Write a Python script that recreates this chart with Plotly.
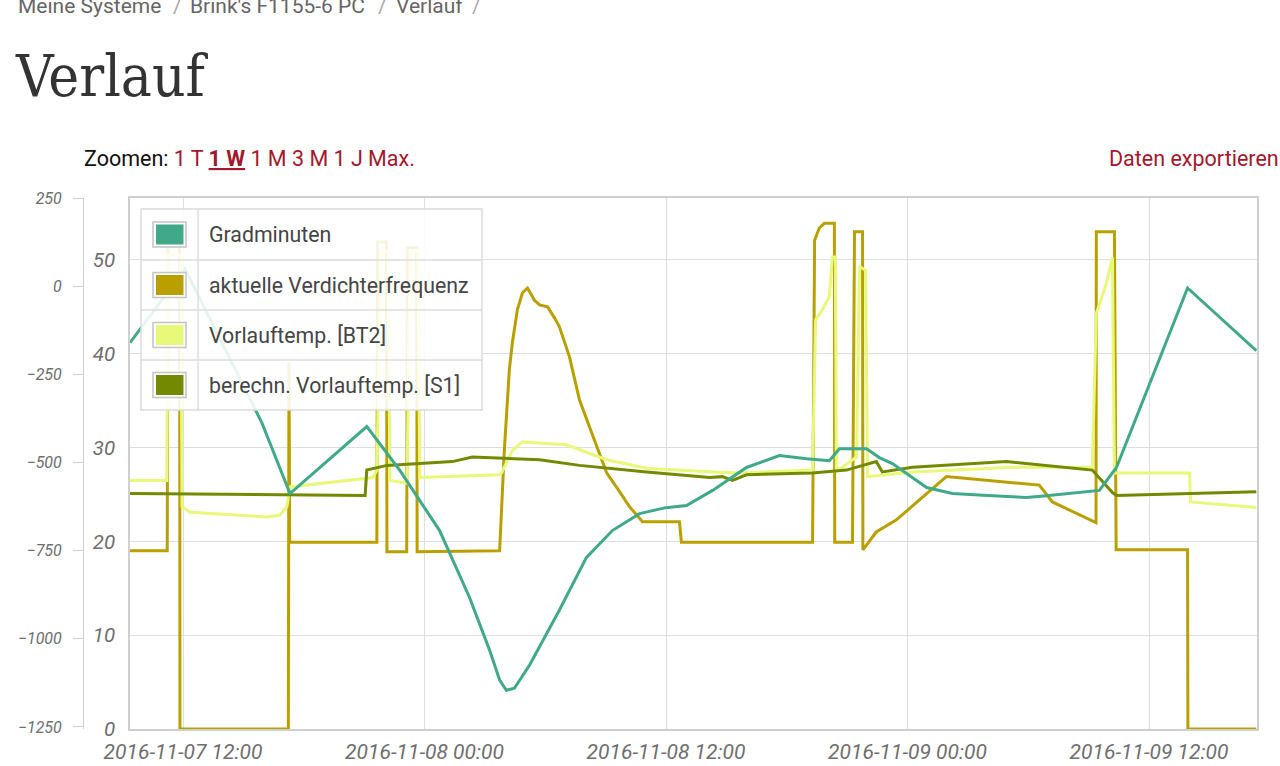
import plotly.graph_objects as go

# ---------------- data ----------------
series_names = ["Gradminuten", "aktuelle Verdichterfrequenz",
                "Vorlauftemp. [BT2]", "berechn. Vorlauftemp. [S1]"]
series_colors = ["#3fa98a", "#b9a000", "#e8f878", "#738a00"]

grad_time = ["2016-11-07 09:22", "2016-11-07 12:06", "2016-11-07 15:55", "2016-11-07 17:19",
             "2016-11-07 21:08", "2016-11-07 22:47", "2016-11-08 00:45", "2016-11-08 02:14",
             "2016-11-08 03:14", "2016-11-08 03:44", "2016-11-08 04:04", "2016-11-08 04:28",
             "2016-11-08 05:13", "2016-11-08 06:42", "2016-11-08 08:03", "2016-11-08 09:20",
             "2016-11-08 10:41", "2016-11-08 12:00", "2016-11-08 13:01", "2016-11-08 14:19",
             "2016-11-08 16:00", "2016-11-08 17:38", "2016-11-08 18:59", "2016-11-08 20:07",
             "2016-11-08 20:37", "2016-11-08 21:58", "2016-11-08 22:36", "2016-11-08 23:15",
             "2016-11-09 00:57", "2016-11-09 02:14", "2016-11-09 04:13", "2016-11-09 05:55",
             "2016-11-09 06:54", "2016-11-09 08:33", "2016-11-09 09:32", "2016-11-09 10:23",
             "2016-11-09 13:55", "2016-11-09 17:20"]
grad_val = [-160, 49, -387, -588,
            -398, -523, -693, -882,
            -1032, -1117, -1146, -1140,
            -1075, -919, -769, -693,
            -645, -628, -622, -579,
            -514, -480, -489, -495,
            -461, -461, -486, -503,
            -571, -588, -594, -599,
            -594, -585, -579, -514,
            -5, -183]

freq_time = ["2016-11-07 09:22", "2016-11-07 11:13", "2016-11-07 11:15", "2016-11-07 11:50",
             "2016-11-07 11:51", "2016-11-07 17:14", "2016-11-07 17:16", "2016-11-07 17:18",
             "2016-11-07 21:38", "2016-11-07 21:40", "2016-11-07 22:07", "2016-11-07 22:08",
             "2016-11-07 23:07", "2016-11-07 23:09", "2016-11-07 23:37", "2016-11-07 23:38",
             "2016-11-08 03:44", "2016-11-08 03:58", "2016-11-08 04:13", "2016-11-08 04:22",
             "2016-11-08 04:37", "2016-11-08 04:52", "2016-11-08 05:07", "2016-11-08 05:28",
             "2016-11-08 05:43", "2016-11-08 06:07", "2016-11-08 06:28", "2016-11-08 06:42",
             "2016-11-08 07:12", "2016-11-08 07:42", "2016-11-08 08:12", "2016-11-08 08:33",
             "2016-11-08 09:03", "2016-11-08 09:32", "2016-11-08 10:11", "2016-11-08 10:50",
             "2016-11-08 12:40", "2016-11-08 12:46", "2016-11-08 19:17", "2016-11-08 19:23",
             "2016-11-08 19:37", "2016-11-08 19:52", "2016-11-08 20:22", "2016-11-08 20:23",
             "2016-11-08 21:16", "2016-11-08 21:22", "2016-11-08 21:46", "2016-11-08 21:47",
             "2016-11-08 22:27", "2016-11-08 23:27", "2016-11-09 00:36", "2016-11-09 01:56",
             "2016-11-09 06:33", "2016-11-09 07:12", "2016-11-09 09:22", "2016-11-09 09:23",
             "2016-11-09 10:17", "2016-11-09 10:22", "2016-11-09 13:55", "2016-11-09 13:56",
             "2016-11-09 17:20"]
freq_val = [19.0, 19.0, 51.6, 51.6,
            0, 0, 39.1, 19.9,
            19.9, 51.9, 51.9, 18.9,
            18.9, 51.3, 51.3, 18.9,
            19.0, 29.7, 38.3, 41.2,
            44.7, 46.5, 47.0, 45.7,
            45.2, 45.0, 43.8, 42.9,
            39.7, 35.1, 32.2, 30.1,
            27.3, 25.8, 23.7, 22.1,
            22.1, 19.9, 19.9, 52.1,
            53.4, 53.9, 53.9, 19.9,
            19.9, 53.0, 53.0, 19.1,
            21.0, 22.3, 24.4, 26.9,
            26.0, 24.2, 22.0, 53.0,
            53.0, 19.1, 19.1, 0,
            0]

bt2_time = ["2016-11-07 09:22", "2016-11-07 11:12", "2016-11-07 11:15", "2016-11-07 11:54",
            "2016-11-07 11:57", "2016-11-07 12:21", "2016-11-07 16:10", "2016-11-07 16:49",
            "2016-11-07 17:10", "2016-11-07 17:19", "2016-11-07 21:26", "2016-11-07 21:38",
            "2016-11-07 21:50", "2016-11-07 22:11", "2016-11-07 22:17", "2016-11-07 23:08",
            "2016-11-07 23:17", "2016-11-07 23:40", "2016-11-07 23:46", "2016-11-08 03:44",
            "2016-11-08 03:50", "2016-11-08 04:22", "2016-11-08 04:52", "2016-11-08 07:03",
            "2016-11-08 09:03", "2016-11-08 11:02", "2016-11-08 14:19", "2016-11-08 15:39",
            "2016-11-08 19:17", "2016-11-08 19:26", "2016-11-08 19:46", "2016-11-08 20:07",
            "2016-11-08 20:16", "2016-11-08 20:25", "2016-11-08 20:28", "2016-11-08 20:46",
            "2016-11-08 21:28", "2016-11-08 21:37", "2016-11-08 21:55", "2016-11-08 22:01",
            "2016-11-09 00:15", "2016-11-09 05:13", "2016-11-09 09:11", "2016-11-09 09:23",
            "2016-11-09 09:53", "2016-11-09 10:11", "2016-11-09 10:17", "2016-11-09 14:01",
            "2016-11-09 14:04", "2016-11-09 17:20"]
bt2_val = [26.5, 26.5, 50.5, 50.5,
           23.7, 23.1, 22.6, 22.8,
           23.7, 25.8, 26.8, 27.6,
           50.9, 50.9, 26.5, 26.2,
           51.0, 51.0, 26.8, 27.1,
           27.3, 29.7, 30.6, 30.3,
           28.7, 27.8, 27.4, 27.3,
           27.6, 43.6, 44.7, 46.1,
           50.3, 50.3, 27.6, 27.9,
           29.0, 49.3, 48.9, 26.9,
           27.4, 27.9, 27.9, 44.3,
           47.5, 50.3, 27.3, 27.3,
           24.2, 23.6]

s1_time = ["2016-11-07 09:22", "2016-11-07 21:03", "2016-11-07 21:08", "2016-11-07 22:08",
           "2016-11-08 01:23", "2016-11-08 02:23", "2016-11-08 05:43", "2016-11-08 07:42",
           "2016-11-08 11:02", "2016-11-08 14:10", "2016-11-08 14:48", "2016-11-08 15:18",
           "2016-11-08 16:00", "2016-11-08 19:17", "2016-11-08 20:58", "2016-11-08 22:27",
           "2016-11-08 22:45", "2016-11-09 00:15", "2016-11-09 04:55", "2016-11-09 09:11",
           "2016-11-09 10:11", "2016-11-09 10:23", "2016-11-09 17:20"]
s1_val = [25.1, 24.9, 27.6, 28.1,
          28.5, 29.0, 28.7, 28.1,
          27.4, 26.8, 26.9, 26.5,
          27.1, 27.3, 27.6, 28.5,
          27.4, 27.9, 28.5, 27.6,
          25.2, 24.9, 25.3]

x_tick_vals = ["2016-11-07 12:00", "2016-11-08 00:00", "2016-11-08 12:00",
               "2016-11-09 00:00", "2016-11-09 12:00"]
x_tick_text = ["2016-11-07 12:00", "2016-11-08 00:00", "2016-11-08 12:00",
               "2016-11-09 00:00", "2016-11-09 12:00"]
x_range = ["2016-11-07 09:22", "2016-11-09 17:22"]
temp_ticks = [0, 10, 20, 30, 40, 50]
temp_range = [0, 56.6]
grad_ticks = [-1250, -1000, -750, -500, -250, 0, 250]
grad_range = [-1255.7, 250.2]

# ---------------- layout helpers ----------------
W, H = 1280, 766


def px(x):
    return x / W


def py(y):
    return 1 - y / H


RED = "#a3182c"
GRID = "#dedede"
XTICKFONT = dict(family="Roboto, Arial, sans-serif", size=21, color="#6e6e6e", style="italic")
YTICKFONT = dict(family="Roboto, Arial, sans-serif", size=20.5, color="#6e6e6e", style="italic")

fig = go.Figure()

fig.add_trace(go.Scatter(x=grad_time, y=grad_val, name=series_names[0], yaxis="y2",
                         mode="lines", line=dict(color=series_colors[0], width=3)))
fig.add_trace(go.Scatter(x=freq_time, y=freq_val, name=series_names[1], yaxis="y",
                         mode="lines", line=dict(color=series_colors[1], width=3)))
fig.add_trace(go.Scatter(x=bt2_time, y=bt2_val, name=series_names[2], yaxis="y",
                         mode="lines", line=dict(color=series_colors[2], width=3)))
fig.add_trace(go.Scatter(x=s1_time, y=s1_val, name=series_names[3], yaxis="y",
                         mode="lines", line=dict(color=series_colors[3], width=3)))

fig.update_layout(
    width=W, height=H,
    margin=dict(l=0, r=0, t=0, b=0, autoexpand=False),
    paper_bgcolor="white", plot_bgcolor="white",
    showlegend=False,
    xaxis=dict(domain=[px(130), px(1257)], range=x_range, type="date",
               tickvals=x_tick_vals, ticktext=x_tick_text, tickfont=XTICKFONT,
               showgrid=True, gridcolor=GRID, gridwidth=1,
               showline=True, linecolor="#cfcfcf", linewidth=1.5, mirror=True,
               ticks="", ticklabelstandoff=3, zeroline=False, anchor="y",
               automargin=False),
    yaxis=dict(domain=[py(729), py(198)], range=temp_range, tickvals=temp_ticks,
               tickfont=YTICKFONT, showgrid=True, gridcolor=GRID, gridwidth=1,
               showline=True, linecolor="#cfcfcf", linewidth=1.5, mirror=True,
               ticks="", ticklabelstandoff=9, zeroline=False, anchor="x",
               automargin=False),
    yaxis2=dict(range=grad_range, tickvals=grad_ticks, overlaying="y", side="left",
                anchor="free", position=px(83), automargin=False,
                tickfont=dict(family="Roboto, Arial, sans-serif", size=16,
                              color="#6e6e6e", style="italic"),
                showgrid=False, zeroline=False, showline=True, linecolor="#d0d0d0",
                linewidth=1, ticks="outside", ticklen=10, tickcolor="#d0d0d0",
                ticklabelstandoff=8),
)

shapes = []
annotations = []

# legend box drawn as a table
L_X0, L_X1, L_Y0, L_Y1, L_COL = 141, 482, 209, 410, 198
row_bounds = [209, 260, 310, 360, 410]
shapes.append(dict(type="rect", xref="paper", yref="paper", layer="above",
                   x0=px(L_X0), x1=px(L_X1), y0=py(L_Y1), y1=py(L_Y0),
                   fillcolor="rgba(255,255,255,0.88)", line=dict(color="#dcdcdc", width=1.5)))
for yb in row_bounds[1:-1]:
    shapes.append(dict(type="line", xref="paper", yref="paper", layer="above",
                       x0=px(L_X0), x1=px(L_X1), y0=py(yb), y1=py(yb),
                       line=dict(color="#dcdcdc", width=1.5)))
shapes.append(dict(type="line", xref="paper", yref="paper", layer="above",
                   x0=px(L_COL), x1=px(L_COL), y0=py(L_Y0), y1=py(L_Y1),
                   line=dict(color="#dcdcdc", width=1.5)))
for i, name in enumerate(series_names):
    cy = (row_bounds[i] + row_bounds[i + 1]) / 2
    shapes.append(dict(type="rect", xref="paper", yref="paper", layer="above",
                       x0=px(153), x1=px(186), y0=py(cy + 12.5), y1=py(cy - 12.5),
                       fillcolor="white", line=dict(color="#c4c4c4", width=1.5)))
    shapes.append(dict(type="rect", xref="paper", yref="paper", layer="above",
                       x0=px(156), x1=px(183.5), y0=py(cy + 10), y1=py(cy - 10),
                       fillcolor=series_colors[i], line=dict(width=0)))
    annotations.append(dict(xref="paper", yref="paper", x=px(207), y=py(cy),
                            xanchor="left", yanchor="middle", showarrow=False, text=name,
                            font=dict(family="Roboto, sans-serif", size=21.3, color="#454545")))

# page header texts
crumb = [("Meine Systeme", 16, "#666666"), ("/", 171, "#aaaaaa"),
         ("Brink's F1155-6 PC", 188, "#666666"), ("/", 376, "#aaaaaa"),
         ("Verlauf", 394, "#666666"), ("/", 470, "#aaaaaa")]
for txt, x0, col in crumb:
    annotations.append(dict(xref="paper", yref="paper", x=px(x0), y=py(6),
                            xanchor="left", yanchor="middle", showarrow=False, text=txt,
                            font=dict(family="Roboto, sans-serif", size=21, color=col)))
annotations.append(dict(xref="paper", yref="paper", x=px(13), y=py(76),
                        xanchor="left", yanchor="middle", showarrow=False, text="Verlauf",
                        font=dict(family="DejaVu Serif Condensed, DejaVu Serif, serif",
                                  size=58, color="#333333")))
annotations.append(dict(xref="paper", yref="paper", x=px(82), y=py(158),
                        xanchor="left", yanchor="middle", showarrow=False,
                        text=("Zoomen: <span style='color:%s'>1 T <b><u>1 W</u></b> 1 M 3 M 1 J Max.</span>"
                              % RED),
                        font=dict(family="Roboto, sans-serif", size=21.5, color="#111111")))
annotations.append(dict(xref="paper", yref="paper", x=px(1281), y=py(158),
                        xanchor="right", yanchor="middle", showarrow=False,
                        text="Daten exportieren",
                        font=dict(family="Roboto, sans-serif", size=21.5, color=RED)))

fig.update_layout(shapes=shapes, annotations=annotations)

fig.write_html("out.html", config={"displayModeBar": False},
               post_script="document.body.style.margin='0';document.body.style.overflow='hidden';")
